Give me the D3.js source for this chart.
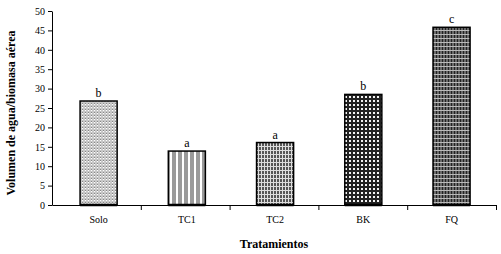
<!DOCTYPE html>
<html>
<head>
<meta charset="utf-8">
<script src="https://cdn.jsdelivr.net/npm/d3@7"></script>
<style>
  body { margin: 0; background: #fff; }
</style>
</head>
<body>
<div id="chart"></div>
<script>
const categories = ['Solo', 'TC1', 'TC2', 'BK', 'FQ'];
const values = [26.8, 13.9, 16.1, 28.5, 45.8];
const letters = ['b', 'a', 'a', 'b', 'c'];
const yTicks = [0, 5, 10, 15, 20, 25, 30, 35, 40, 45, 50];

const font = '"Liberation Serif", "Times New Roman", serif';
const width = 501, height = 254;
const margins = {top: 11, right: 5, bottom: 49, left: 52};
const chartWidth = width - margins.left - margins.right;
const chartHeight = height - margins.top - margins.bottom;

const root = d3.select('#chart')
  .append('svg')
  .attr('width', width)
  .attr('height', height);

// fill patterns, one per bar
const defs = root.append('defs');
const addPattern = (id, size, bg, rects) => {
  const p = defs.append('pattern')
    .attr('id', id)
    .attr('patternUnits', 'userSpaceOnUse')
    .attr('width', size[0])
    .attr('height', size[1]);
  p.append('rect').attr('width', size[0]).attr('height', size[1]).attr('fill', bg);
  rects.forEach(r => p.append('rect')
    .attr('x', r[0]).attr('y', r[1]).attr('width', r[2]).attr('height', r[3]).attr('fill', r[4]));
};
addPattern('p0', [3, 3], '#c8c8c8', [[0, 0, 1, 1, '#fff'], [0, 2, 1, 1, '#888']]);
addPattern('p1', [6, 6], '#fff', [[0, 0, 4, 6, '#9a9a9a']]);
addPattern('p2', [3, 4], '#555', [[2, 0, 1, 4, '#ddd'], [0, 3, 3, 1, '#ddd']]);
addPattern('p3', [4, 4], '#222', [[1, 1, 2, 2, '#f4f4f4']]);
addPattern('p4', [3, 4], '#6a6a6a', [[0, 0, 1, 4, '#222'], [0, 3, 3, 1, '#bbb']]);

const svg = root.append('g')
  .attr('transform', 'translate(' + margins.left + ',' + margins.top + ')');

const x = d3.scaleBand()
  .domain(categories)
  .range([0, chartWidth])
  .paddingInner(0.58)
  .paddingOuter(0.306)
  .align(0.52);

const xAxisScale = d3.scaleLinear()
  .domain([0, categories.length])
  .range([0, chartWidth]);

const y = d3.scaleLinear()
  .domain([0, 50])
  .range([chartHeight, 0]);

// bars
svg.selectAll('.bar')
  .data(values)
  .enter()
  .append('rect')
  .attr('class', 'bar')
  .attr('x', (d, i) => x(categories[i]))
  .attr('y', d => y(d))
  .attr('width', x.bandwidth())
  .attr('height', d => chartHeight - y(d))
  .attr('fill', (d, i) => 'url(#p' + i + ')')
  .attr('stroke', '#000')
  .attr('stroke-width', 1.5);

// significance letters
svg.selectAll('.letter')
  .data(values)
  .enter()
  .append('text')
  .attr('x', (d, i) => x(categories[i]) + x.bandwidth() / 2)
  .attr('y', d => y(d) - 4)
  .attr('text-anchor', 'middle')
  .attr('font-family', font)
  .attr('font-size', 12)
  .text((d, i) => letters[i]);

// Y axis
const yAxis = svg.append('g')
  .call(d3.axisLeft(y).tickValues(yTicks).tickSize(4).tickSizeOuter(0));
yAxis.selectAll('.tick text').attr('font-family', font).attr('font-size', 10).attr('fill', '#000');
yAxis.select('.domain').attr('stroke', '#000');

// X axis: ticks between categories
const xAxis = svg.append('g')
  .attr('transform', 'translate(0,' + chartHeight + ')')
  .call(d3.axisBottom(xAxisScale).tickValues(d3.range(1, categories.length + 1)).tickSize(5).tickSizeOuter(0).tickFormat(''));
xAxis.select('.domain').attr('stroke', '#000').attr('stroke-width', 1);

svg.selectAll('.bottom')
  .data(categories)
  .enter()
  .append('line')
  .attr('x1', d => x(d))
  .attr('x2', d => x(d) + x.bandwidth())
  .attr('y1', chartHeight)
  .attr('y2', chartHeight)
  .attr('stroke', '#000')
  .attr('stroke-width', 2.5);

svg.selectAll('.cat')
  .data(categories)
  .enter()
  .append('text')
  .attr('x', d => x(d) + x.bandwidth() / 2)
  .attr('y', chartHeight + 18)
  .attr('text-anchor', 'middle')
  .attr('font-family', font)
  .attr('font-size', 10)
  .text(d => d);

// axis titles
root.append('text')
  .attr('x', margins.left + chartWidth / 2)
  .attr('y', 248)
  .attr('text-anchor', 'middle')
  .attr('font-family', font)
  .attr('font-size', 12)
  .attr('font-weight', 'bold')
  .text('Tratamientos');

root.append('text')
  .attr('transform', 'translate(15,113) rotate(-90)')
  .attr('text-anchor', 'middle')
  .attr('font-family', font)
  .attr('font-size', 12)
  .attr('font-weight', 'bold')
  .text('Volumen de agua/biomasa aérea');
</script>
</body>
</html>
